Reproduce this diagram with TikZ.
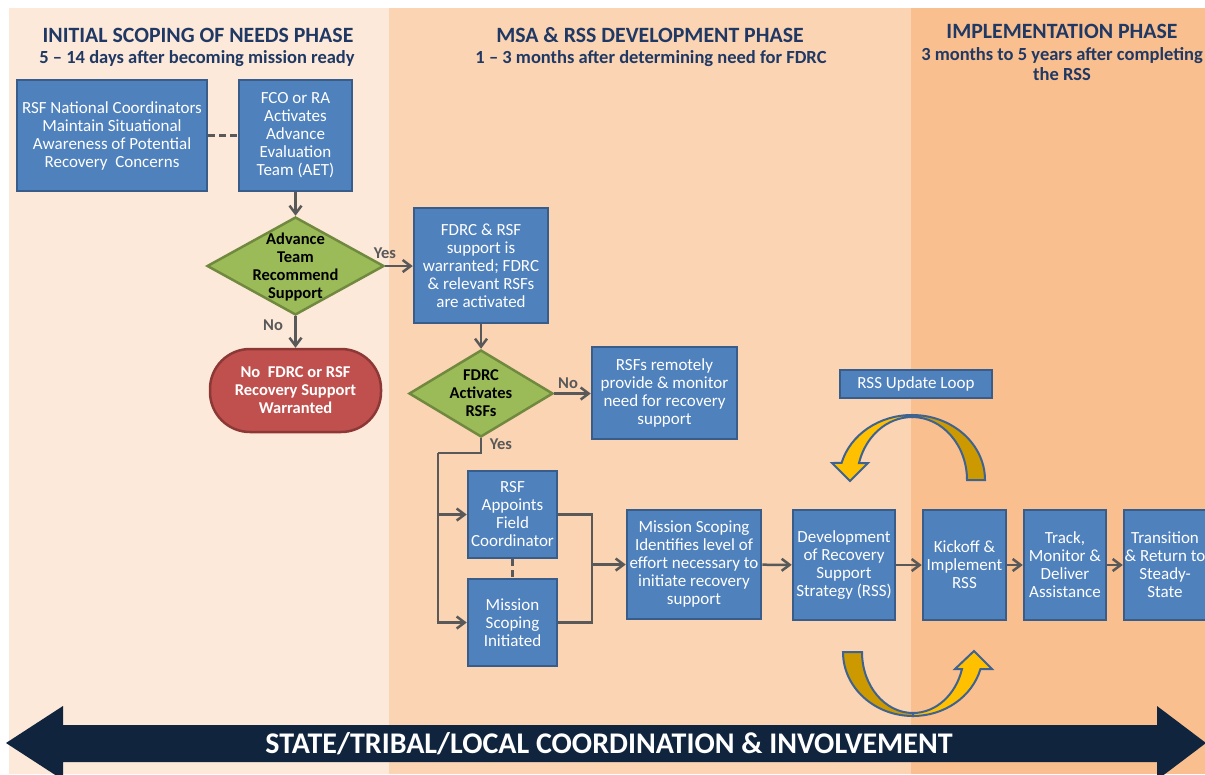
\documentclass[tikz,border=0pt]{standalone}
\usepackage{fontspec}
\setmainfont{Carlito}
\usetikzlibrary{shapes.geometric,arrows.meta}
\definecolor{paneA}{HTML}{FDE9D9}
\definecolor{paneB}{HTML}{FBD4B4}
\definecolor{paneC}{HTML}{FABF8F}
\definecolor{navy}{HTML}{1F3864}
\definecolor{boxblue}{HTML}{4F81BD}
\definecolor{boxedge}{HTML}{385D8A}
\definecolor{decgreen}{HTML}{9BBB59}
\definecolor{decedge}{HTML}{71893F}
\definecolor{stopred}{HTML}{C0504D}
\definecolor{stopedge}{HTML}{8C3836}
\definecolor{lineg}{HTML}{595959}
\definecolor{bannernavy}{HTML}{10243E}
\definecolor{gold}{HTML}{FFC000}
\definecolor{darkgold}{HTML}{CC9900}
\definecolor{loopedge}{HTML}{3F6390}
\begin{document}
\begin{tikzpicture}[x=1pt,y=-1pt,
  >={Straight Barb[length=8pt,width=12pt]},
  bluebox/.style={draw=boxedge,line width=2.5pt,fill=boxblue,text=white,inner sep=0pt,align=center,font=\fontsize{17}{18}\selectfont},
  greendec/.style={diamond,draw=decedge,line width=2.5pt,fill=decgreen,inner sep=0pt},
  dectext/.style={font=\bfseries\fontsize{16.5}{18}\selectfont,align=center,text=black},
  redend/.style={draw=stopedge,line width=2.5pt,fill=stopred,rounded corners=40pt,text=white,inner sep=0pt,align=center,font=\bfseries\fontsize{16.5}{18}\selectfont},
  conn/.style={draw=lineg,line width=2.5pt},
  dashconn/.style={draw=lineg,line width=2.5pt,dash pattern=on 7pt off 4pt},
  yesno/.style={text=lineg,font=\bfseries\fontsize{16.5}{18}\selectfont},
  phasehead/.style={text=navy,font=\bfseries\fontsize{21.8}{24}\selectfont},
  phasesub/.style={text=navy,font=\bfseries\fontsize{18.5}{20}\selectfont,align=center},
  loopband/.style={draw=loopedge,line width=2pt}]
  \path[use as bounding box,clip] (0,0) rectangle (1205,774);
  % phase panels
  \fill[white] (0,0) rectangle (1205,774);
  \fill[paneA] (9,8) rectangle (389,774);
  \fill[paneB] (389,8) rectangle (911,774);
  \fill[paneC] (911,8) rectangle (1205,774);
  \node[phasehead,anchor=base] (headA) at (198,42) {INITIAL SCOPING OF NEEDS PHASE};
  \node[phasesub,anchor=base] (subA) at (197,63) {5 – 14 days after becoming mission ready};
  \node[phasehead,anchor=base] (headB) at (650,42) {MSA \& RSS DEVELOPMENT PHASE};
  \node[phasesub,anchor=base] (subB) at (651,63) {1 – 3 months after determining need for FDRC};
  \node[phasehead,anchor=base] (headC) at (1062,38) {IMPLEMENTATION PHASE};
  \node[phasesub,anchor=north] (subC) at (1062,44) {3 months to 5 years after completing\\the RSS};
  % banner
  \fill[bannernavy] (6,743) -- (63,706) -- (63,725) -- (1157,725) -- (1157,706) -- (1206,743)
    -- (1157,780) -- (1157,762) -- (63,762) -- (63,780) -- cycle;
  \node[text=white,font=\bfseries\fontsize{30}{32}\selectfont] (coord) at (609,744) {STATE/TRIBAL/LOCAL COORDINATION \& INVOLVEMENT};
  % first phase
  \node[bluebox,minimum width=190pt,minimum height=111pt] (natl) at (112,135.5) {RSF National Coordinators\\Maintain Situational\\Awareness of Potential\\Recovery\ \ Concerns};
  \node[bluebox,minimum width=113pt,minimum height=111pt] (fco) at (295.5,135.5) {FCO or RA\\Activates\\Advance\\Evaluation\\Team (AET)};
  \node[greendec,minimum width=177pt,minimum height=98pt,label={[dectext,yshift=-1pt]center:{Advance\\Team\\Recommend\\Support}}] (advdec) at (295.5,266) {};
  \node[redend,minimum width=171pt,minimum height=83pt] (nosupp) at (295.5,390.5) {No\ \ FDRC or RSF\\Recovery Support\\Warranted};
  \draw[dashconn] (natl) -- (fco);
  \draw[conn,->] (fco) -- (advdec);
  \draw[conn,->] (advdec) -- (nosupp);
  \node[yesno] (noA) at (273,325) {No};
  % second phase
  \node[bluebox,minimum width=134pt,minimum height=115pt] (fdrcsupp) at (481,265.5) {FDRC \& RSF\\support is\\warranted; FDRC\\\& relevant RSFs\\are activated};
  \node[greendec,minimum width=144pt,minimum height=87pt,label={[dectext]center:{FDRC\\Activates\\RSFs}}] (fdrcdec) at (481,393.5) {};
  \node[bluebox,minimum width=145pt,minimum height=92pt] (remote) at (664.5,393) {RSFs remotely\\provide \& monitor\\need for recovery\\support};
  \node[bluebox,minimum width=89pt,minimum height=87pt] (appoint) at (512.5,514.5) {RSF\\Appoints\\Field\\Coordinator};
  \node[bluebox,minimum width=89pt,minimum height=87pt] (initiated) at (512.5,622.5) {Mission\\Scoping\\Initiated};
  \node[bluebox,minimum width=134pt,minimum height=109pt] (scopeid) at (694,564.5) {Mission Scoping\\Identifies level of\\effort necessary to\\initiate recovery\\support};
  \node[bluebox,minimum width=102pt,minimum height=110pt] (devrss) at (844,565) {Development\\of Recovery\\Support\\Strategy (RSS)};
  \node[bluebox,minimum width=152pt,minimum height=28pt] (loopbox) at (916,384) {RSS Update Loop};
  \draw[conn,->] (advdec.east) -- (fdrcsupp.west |- advdec.east);
  \node[yesno] (yesA) at (385,253) {Yes};
  \draw[conn,->] (fdrcsupp) -- (fdrcdec);
  \draw[conn,->] (fdrcdec.east) -- (remote.west |- fdrcdec.east);
  \node[yesno] (noB) at (568,383) {No};
  \coordinate (ysplit) at (438,453);
  \draw[conn] (fdrcdec.south) |- (ysplit);
  \draw[conn,->] (ysplit) |- (appoint.west);
  \draw[conn,->] (ysplit) |- (initiated.west);
  \node[yesno] (yesB) at (501,444) {Yes};
  \draw[dashconn] (appoint) -- (initiated);
  \coordinate (yjoin) at (592,564.5);
  \draw[conn] (appoint.east) -| (yjoin);
  \draw[conn] (initiated.east) -| (yjoin);
  \draw[conn,->] (yjoin) -- (scopeid.west);
  \draw[conn,->] (scopeid) -- (devrss);
  % third phase
  \node[bluebox,minimum width=83pt,minimum height=110pt] (kickoff) at (964.5,565) {Kickoff \&\\Implement\\RSS};
  \node[bluebox,minimum width=82pt,minimum height=110pt] (track) at (1065,565) {Track,\\Monitor \&\\Deliver\\Assistance};
  \node[bluebox,minimum width=82pt,minimum height=110pt] (transition) at (1165,565) {Transition\\\& Return to\\Steady-\\State};
  \draw[conn,->] (devrss) -- (kickoff);
  \draw[conn,->] (kickoff) -- (track);
  \draw[conn,->] (track) -- (transition);
  % update loop arrows
  \filldraw[loopband,fill=gold] (912,415) arc[start angle=-90,end angle=-164.8,x radius=73,y radius=65]
    -- (832,463) -- (850,481) -- (868,463) -- (859,463)
    arc[start angle=-164.3,end angle=-90,x radius=55,y radius=63] -- cycle;
  \filldraw[loopband,fill=darkgold] (912,415) arc[start angle=-90,end angle=0,x radius=73,y radius=65]
    -- (967,480) arc[start angle=0,end angle=-90,x radius=55,y radius=63] -- cycle;
  \filldraw[loopband,fill=darkgold] (843,652) arc[start angle=180,end angle=90,x radius=70,y radius=64]
    -- (913,713) arc[start angle=90,end angle=180,x radius=51,y radius=61] -- cycle;
  \filldraw[loopband,fill=gold] (913,716) arc[start angle=90,end angle=15.4,x radius=70,y radius=64]
    -- (992,669) -- (974,651) -- (955,669) -- (962,669)
    arc[start angle=16.2,end angle=90,x radius=51,y radius=61] -- cycle;
\end{tikzpicture}
\end{document}
